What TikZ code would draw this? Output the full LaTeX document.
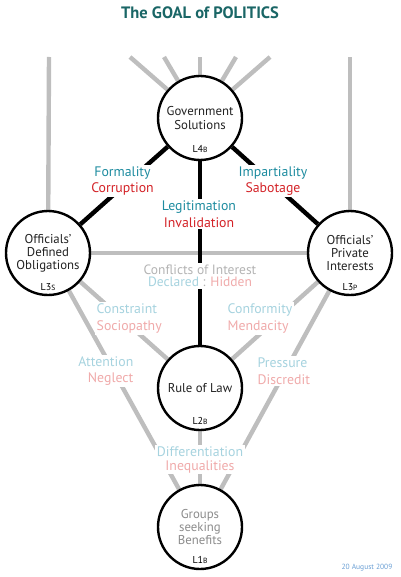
\documentclass[tikz,border=0pt]{standalone}
\usepackage{fontspec}
\setmainfont{PT Sans}
\usetikzlibrary{positioning,backgrounds}
\definecolor{titleTeal}{HTML}{1A6666}
\definecolor{lblTeal}{HTML}{1E8CA0}
\definecolor{lblRed}{HTML}{D42328}
\definecolor{paleBlue}{HTML}{A6D3DF}
\definecolor{palePink}{HTML}{F0AAAA}
\definecolor{paleGray}{HTML}{B4B4B4}
\definecolor{benefitGray}{HTML}{8C8C8C}
\definecolor{lineGray}{HTML}{BEBEBE}
\definecolor{inkGray}{HTML}{222222}
\definecolor{dateBlue}{HTML}{6A9FD4}
\newcommand{\lvcap}[1]{{\fontsize{7.5}{8}\selectfont #1}}

\begin{document}
\begin{tikzpicture}[
    x=1pt, y=-1pt,
    every node/.style={font=\fontsize{12.8}{13.2}\selectfont, text=inkGray},
    level/.style={draw=black, circle, line width=2.4pt, minimum size=84pt, inner sep=0pt, fill=white, align=center},
    tag/.style={font=\fontsize{10}{10}\selectfont, inner sep=1pt, text=black},
    lbl/.style={fill=white, align=center, inner sep=1.5pt, font=\fontsize{13.8}{16.5}\selectfont},
    boldlink/.style={line width=4.4pt, draw=black},
    greylink/.style={line width=4.4pt, draw=lineGray}
]
\useasboundingbox (0,0) rectangle (400,577);
\node[font=\bfseries\fontsize{16.5}{18}\selectfont, text=titleTeal] (title) at (200,12.5) {The GOAL of POLITICS};

\node[level] (gov) at (200,118) {Government\\Solutions};
\node[level] (obl) at (48,253) {Officials'\\Defined\\Obligations};
\node[level] (priv) at (350,253) {Officials'\\Private\\Interests};
\node[level] (law) at (200,388) {Rule of Law};
\node[level, text=benefitGray] (groups) at (200,527) {Groups\\seeking\\Benefits};

\node[tag, above=7pt of gov.south] (govTag) {L4\lvcap{B}};
\node[tag, above=4pt of obl.south] (oblTag) {L3\lvcap{S}};
\node[tag, above=4pt of priv.south] (privTag) {L3\lvcap{P}};
\node[tag, above=5pt of law.south] (lawTag) {L2\lvcap{B}};
\node[tag, above=5pt of groups.south] (groupsTag) {L1\lvcap{B}};

\begin{scope}[on background layer]
  \foreach \fx [count=\i] in {130,164,200,236,270} {
    \coordinate (fan\i) at (\fx,57);
    \draw[greylink] (gov) -- (fan\i);
  }
  \coordinate (oblTop) at (49,57);
  \coordinate (privTop) at (350,57);
  \draw[greylink] (obl) -- (oblTop);
  \draw[greylink] (priv) -- (privTop);
  \draw[greylink] (obl) -- (priv);
  \draw[greylink] (obl) -- (law);
  \draw[greylink] (priv) -- (law);
  \draw[greylink] (obl) -- (groups);
  \draw[greylink] (priv) -- (groups);
  \draw[greylink] (law) -- (groups);
  % the three strong ties of the top level
  \draw[boldlink] (gov) -- (obl);
  \draw[boldlink] (gov) -- (priv);
  \draw[boldlink] (gov) -- (law);
\end{scope}

\node[lbl] (formLbl) at (122.5,181) {\textcolor{lblTeal}{Formality}\\\textcolor{lblRed}{Corruption}};
\node[lbl] (impLbl) at (273,181) {\textcolor{lblTeal}{Impartiality}\\\textcolor{lblRed}{Sabotage}};
\node[lbl] (legitLbl) at (199,214) {\textcolor{lblTeal}{Legitimation}\\\textcolor{lblRed}{Invalidation}};
\node[lbl, font=\fontsize{13.5}{12.5}\selectfont] (coiLbl) at (200,276) {\textcolor{paleGray}{Conflicts of Interest}\\\textcolor{paleBlue}{Declared} \textcolor{paleGray}{:} \textcolor{palePink}{Hidden}};
\node[lbl, align=left, anchor=west] (constrLbl) at (95,318.5) {\textcolor{paleBlue}{Constraint}\\\textcolor{palePink}{Sociopathy}};
\node[lbl, align=left, anchor=west] (conformLbl) at (226,318.5) {\textcolor{paleBlue}{Conformity}\\\textcolor{palePink}{Mendacity}};
\node[lbl, align=right, anchor=east] (attnLbl) at (135,371) {\textcolor{paleBlue}{Attention}\\\textcolor{palePink}{Neglect}};
\node[lbl, align=left, anchor=west] (pressLbl) at (256,371) {\textcolor{paleBlue}{Pressure}\\\textcolor{palePink}{Discredit}};
\node[lbl, font=\fontsize{13.8}{14}\selectfont] (diffLbl) at (200,459.5) {\textcolor{paleBlue}{Differentiation}\\\textcolor{palePink}{Inequalities}};

\node[font=\fontsize{7.5}{8}\selectfont, text=dateBlue] (stamp) at (367,568) {20 August 2009};
\end{tikzpicture}
\end{document}
